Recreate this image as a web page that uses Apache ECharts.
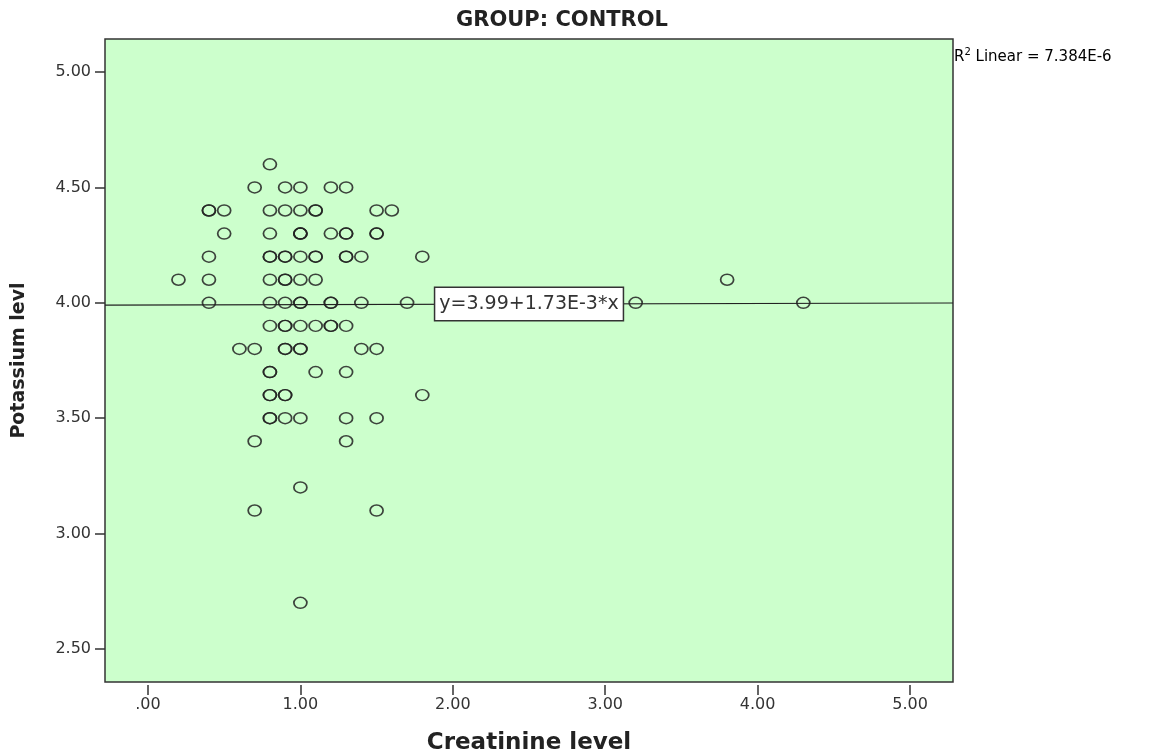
<!DOCTYPE html>
<html>
<head>
<meta charset="utf-8">
<script src="https://cdn.jsdelivr.net/npm/echarts@6/dist/echarts.min.js"></script>
<style>
html,body{margin:0;padding:0;background:#fff;}
#chart{width:1150px;height:751px;}
</style>
</head>
<body>
<div id="chart"></div>
<script>
// Data (duplicates = darker overlapping circles)
const creatinine = [
  0.8,
  0.7, 0.9, 1.0, 1.2, 1.3,
  0.4, 0.4, 0.5, 0.8, 0.9, 1.0, 1.1, 1.1, 1.5, 1.6,
  0.5, 0.8, 1.0, 1.0, 1.0, 1.2, 1.3, 1.3, 1.5, 1.5,
  0.4, 0.8, 0.8, 0.9, 0.9, 1.0, 1.1, 1.1, 1.3, 1.3, 1.4, 1.8,
  0.2, 0.4, 0.8, 0.9, 0.9, 1.0, 1.1, 3.8,
  0.4, 0.8, 0.9, 1.0, 1.0, 1.2, 1.2, 1.4, 1.7, 3.2, 4.3,
  0.8, 0.9, 0.9, 1.0, 1.1, 1.2, 1.2, 1.3,
  0.6, 0.7, 0.9, 0.9, 1.0, 1.0, 1.4, 1.5,
  0.8, 0.8, 1.1, 1.3,
  0.8, 0.8, 0.9, 0.9, 1.8,
  0.8, 0.8, 0.9, 1.0, 1.3, 1.5,
  0.7, 1.3,
  1.0,
  0.7, 1.5,
  1.0
];
const potassium = [
  4.6,
  4.5, 4.5, 4.5, 4.5, 4.5,
  4.4, 4.4, 4.4, 4.4, 4.4, 4.4, 4.4, 4.4, 4.4, 4.4,
  4.3, 4.3, 4.3, 4.3, 4.3, 4.3, 4.3, 4.3, 4.3, 4.3,
  4.2, 4.2, 4.2, 4.2, 4.2, 4.2, 4.2, 4.2, 4.2, 4.2, 4.2, 4.2,
  4.1, 4.1, 4.1, 4.1, 4.1, 4.1, 4.1, 4.1,
  4.0, 4.0, 4.0, 4.0, 4.0, 4.0, 4.0, 4.0, 4.0, 4.0, 4.0,
  3.9, 3.9, 3.9, 3.9, 3.9, 3.9, 3.9, 3.9,
  3.8, 3.8, 3.8, 3.8, 3.8, 3.8, 3.8, 3.8,
  3.7, 3.7, 3.7, 3.7,
  3.6, 3.6, 3.6, 3.6, 3.6,
  3.5, 3.5, 3.5, 3.5, 3.5, 3.5,
  3.4, 3.4,
  3.2,
  3.1, 3.1,
  2.7
];
const xTicks = [0, 1, 2, 3, 4, 5];
const yTicks = [2.5, 3.0, 3.5, 4.0, 4.5, 5.0];
const intercept = 3.99;
const slope = 1.73e-3;
const fitLabel = 'y=3.99+1.73E-3*x';
const r2Text = '7.384E-6';
const titleText = 'GROUP: CONTROL';
const xName = 'Creatinine level';
const yName = 'Potassium levl';
const xRange = [-0.282, 5.282];
const yRange = [2.357, 5.143];

const points = creatinine.map((c, i) => [c, potassium[i]]);
const fitLine = xRange.map(x => [x, intercept + slope * x]);
const fitMid = (xRange[0] + xRange[1]) / 2;

const FONT = '"DejaVu Sans", Verdana, sans-serif';
const chart = echarts.init(document.getElementById('chart'), null, {renderer: 'canvas'});
chart.setOption({
  animation: false,
  backgroundColor: '#ffffff',
  grid: {
    left: 105, right: 197, top: 39, bottom: 69,
    containLabel: false, outerBoundsMode: 'none',
    show: true, backgroundColor: '#ccffcc', borderColor: '#333', borderWidth: 1.5
  },
  xAxis: {
    type: 'value', min: xRange[0], max: xRange[1],
    offset: 3,
    splitLine: {show: false},
    axisLine: {show: false, onZero: false},
    axisTick: {show: true, length: 10, customValues: xTicks, lineStyle: {color: '#333', width: 1.5}},
    axisLabel: {
      customValues: xTicks, margin: 12,
      fontFamily: FONT, fontSize: 16, color: '#333',
      formatter: v => (v === 0 ? '.00' : v.toFixed(2))
    },
    name: xName, nameLocation: 'middle', nameGap: 47,
    nameTextStyle: {fontFamily: FONT, fontSize: 23, fontWeight: 'bold', color: '#222'}
  },
  yAxis: {
    type: 'value', min: yRange[0], max: yRange[1],
    splitLine: {show: false},
    axisLine: {show: false, onZero: false},
    axisTick: {show: true, length: 10, customValues: yTicks, lineStyle: {color: '#333', width: 1.5}},
    axisLabel: {
      customValues: yTicks, margin: 14,
      fontFamily: FONT, fontSize: 16, color: '#333',
      formatter: v => v.toFixed(2)
    },
    name: yName, nameLocation: 'middle', nameGap: 76, nameRotate: 90,
    nameTextStyle: {fontFamily: FONT, fontSize: 19, fontWeight: 'bold', color: '#222'}
  },
  series: [
    {
      type: 'line',
      data: fitLine,
      symbol: 'none',
      lineStyle: {color: '#222', width: 1.2},
      z: 2,
      markPoint: {
        symbol: 'rect', symbolSize: 1,
        itemStyle: {color: 'transparent'},
        data: [{
          coord: [fitMid, intercept + slope * fitMid],
          label: {
            show: true, position: 'inside', formatter: fitLabel,
            fontFamily: FONT, fontSize: 19, lineHeight: 21, color: '#333',
            backgroundColor: '#ffffff', borderColor: '#333', borderWidth: 1.5,
            padding: [6, 4, 5, 4]
          }
        }]
      }
    },
    {
      type: 'scatter',
      data: points,
      symbol: 'circle',
      symbolSize: [13, 11],
      itemStyle: {color: 'transparent', borderColor: '#222', borderWidth: 1.6, opacity: 0.85},
      z: 3
    }
  ],
  graphic: [
    {
      type: 'text', x: 562, y: 21,
      style: {
        text: titleText, align: 'center', verticalAlign: 'middle',
        font: 'bold 21px "DejaVu Sans", Verdana, sans-serif', fill: '#222'
      }
    },
    {
      type: 'text', left: 954, top: 47,
      style: {
        text: '{r|R}{s|2}{r| Linear = ' + r2Text + '}',
        rich: {
          r: {fontFamily: FONT, fontSize: 15, color: '#333', verticalAlign: 'bottom', lineHeight: 18},
          s: {fontFamily: FONT, fontSize: 10, color: '#333', verticalAlign: 'top', lineHeight: 18, padding: [0, 0, 7, 0]}
        }
      }
    }
  ]
});
</script>
</body>
</html>
